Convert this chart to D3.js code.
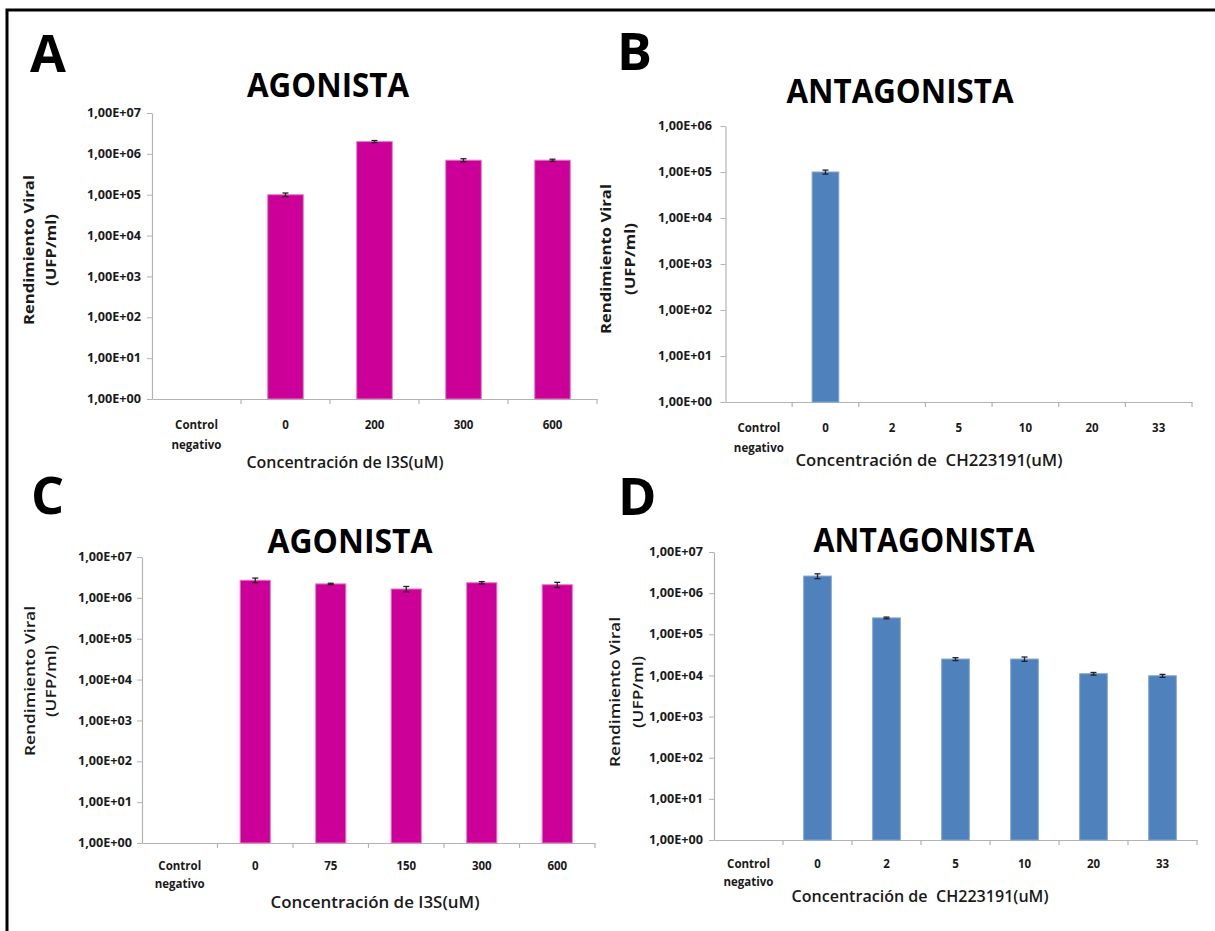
<!DOCTYPE html>
<html>
<head>
<meta charset="utf-8">
<script src="https://cdn.jsdelivr.net/npm/d3@7"></script>
<style>
  html, body { margin: 0; padding: 0; background: #fff; }
  svg { display: block; font-family: "Open Sans", "DejaVu Sans", sans-serif; }
</style>
</head>
<body>
<svg id="chart" width="1215" height="931"></svg>
<script>
// ---------------- DATA ----------------
const catA = ["Control negativo", "0", "200", "300", "600"];
const valA = [null, 1.0e5, 2.0e6, 7.0e5, 7.0e5];
const errA = [0, 1.0e4, 1.2e5, 6.0e4, 4.0e4];

const catB = ["Control negativo", "0", "2", "5", "10", "20", "33"];
const valB = [null, 1.0e5, null, null, null, null, null];
const errB = [0, 1.0e4, 0, 0, 0, 0, 0];

const catC = ["Control negativo", "0", "75", "150", "300", "600"];
const valC = [null, 2.7e6, 2.2e6, 1.65e6, 2.35e6, 2.1e6];
const errC = [0, 3.5e5, 8.0e4, 2.5e5, 1.5e5, 3.0e5];

const catD = ["Control negativo", "0", "2", "5", "10", "20", "33"];
const valD = [null, 2.6e6, 2.5e5, 2.5e4, 2.5e4, 1.1e4, 9.8e3];
const errD = [0, 3.5e5, 1.2e4, 2.0e3, 3.0e3, 8.0e2, 8.0e2];

const tickVals7 = [1, 1e1, 1e2, 1e3, 1e4, 1e5, 1e6, 1e7];
const tickLabels7 = ["1,00E+00", "1,00E+01", "1,00E+02", "1,00E+03", "1,00E+04", "1,00E+05", "1,00E+06", "1,00E+07"];
const tickVals6 = [1, 1e1, 1e2, 1e3, 1e4, 1e5, 1e6];
const tickLabels6 = ["1,00E+00", "1,00E+01", "1,00E+02", "1,00E+03", "1,00E+04", "1,00E+05", "1,00E+06"];

const panelLetters = ["A", "B", "C", "D"];
const titles = ["AGONISTA", "ANTAGONISTA", "AGONISTA", "ANTAGONISTA"];
const xTitles = ["Concentración de I3S(uM)", "Concentración de  CH223191(uM)", "Concentración de I3S(uM)", "Concentración de  CH223191(uM)"];
const yTitle1 = "Rendimiento Viral";
const yTitle2 = "(UFP/ml)";

const MAGENTA = "#CC0099";
const BLUE = "#4F81BD";

// ---------------- LAYOUT ----------------
const panels = [
  { letter: panelLetters[0], cats: catA, vals: valA, errs: errA, tv: tickVals7, tl: tickLabels7,
    color: MAGENTA, stroke: "#e27fc4",
    x0: 152, x1: 597, yTop: 113, yBot: 399, top: 1e7,
    letterX: 30, letterY: 72,
    title: titles[0], titleX: 328, titleY: 97, titleW: 162,
    tickRight: 141, catY1: 429, catY2: 449,
    xTitle: xTitles[0], xTitleX: 345, xTitleY: 468, xTitleW: 197,
    yT1x: 29, yT2x: 51, yTy: 250, yBold: true },
  { letter: panelLetters[1], cats: catB, vals: valB, errs: errB, tv: tickVals6, tl: tickLabels6,
    color: BLUE, stroke: "#7ea4d3",
    x0: 725.5, x1: 1192, yTop: 126, yBot: 402, top: 1e6,
    letterX: 617, letterY: 70,
    title: titles[1], titleX: 900, titleY: 103, titleW: 227,
    tickRight: 712, catY1: 432, catY2: 452,
    xTitle: xTitles[1], xTitleX: 929, xTitleY: 466, xTitleW: 267,
    yT1x: 606, yT2x: 630, yTy: 259, yBold: true },
  { letter: panelLetters[2], cats: catC, vals: valC, errs: errC, tv: tickVals7, tl: tickLabels7,
    color: MAGENTA, stroke: "#e27fc4",
    x0: 142, x1: 595, yTop: 557, yBot: 843, top: 1e7,
    letterX: 31, letterY: 514,
    title: titles[2], titleX: 350, titleY: 553, titleW: 165,
    tickRight: 132, catY1: 870, catY2: 888,
    xTitle: xTitles[2], xTitleX: 375, xTitleY: 908, xTitleW: 209,
    yT1x: 30, yT2x: 51, yTy: 681, yBold: false },
  { letter: panelLetters[3], cats: catD, vals: valD, errs: errD, tv: tickVals7, tl: tickLabels7,
    color: BLUE, stroke: "#7ea4d3",
    x0: 714, x1: 1197, yTop: 552, yBot: 840, top: 1e7,
    letterX: 618, letterY: 515,
    title: titles[3], titleX: 924, titleY: 552, titleW: 221,
    tickRight: 703, catY1: 868, catY2: 886,
    xTitle: xTitles[3], xTitleX: 920, xTitleY: 902, xTitleW: 257,
    yT1x: 615, yT2x: 638, yTy: 692, yBold: false }
];

const svg = d3.select("#chart");

// outer frame (top and left edges visible)
svg.append("path")
  .attr("d", d3.line()([[7, 940], [7, 10], [1225, 10]]))
  .attr("fill", "none").attr("stroke", "#000").attr("stroke-width", 3);

function drawPanel(p) {
  const g = svg.append("g");
  const x = d3.scaleBand().domain(p.cats).range([p.x0, p.x1]).paddingInner(0).paddingOuter(0);
  const y = d3.scaleLog().domain([1, p.top]).range([p.yBot, p.yTop]);
  const bw = x.bandwidth() * 0.4;

  // panel letter
  g.append("text").attr("x", p.letterX).attr("y", p.letterY)
    .attr("font-size", 52).attr("font-weight", 700).attr("fill", "#000").text(p.letter);

  // title
  g.append("text").attr("x", p.titleX).attr("y", p.titleY)
    .attr("text-anchor", "middle").attr("font-size", 34).attr("font-weight", 700)
    .attr("textLength", p.titleW).attr("lengthAdjust", "spacingAndGlyphs")
    .attr("fill", "#000").text(p.title);

  // y axis
  const yAxis = d3.axisLeft(y).tickValues(p.tv).tickFormat((d, i) => p.tl[i]).tickSize(5).tickSizeOuter(0);
  const ya = g.append("g").attr("transform", `translate(${p.x0},0)`).call(yAxis);
  ya.select(".domain").attr("stroke", "#b3b3b3").attr("stroke-width", 1.2);
  ya.selectAll(".tick line").attr("stroke", "#b3b3b3");
  ya.selectAll(".tick text")
    .attr("x", p.tickRight - p.x0)
    .attr("font-size", 11.5).attr("font-weight", 700).attr("fill", "#1a1a1a")
    .attr("font-family", "'Open Sans', sans-serif")
    .attr("textLength", 54).attr("lengthAdjust", "spacingAndGlyphs");

  // x axis (line + boundary ticks)
  const xAxis = d3.axisBottom(x).tickSize(0).tickSizeOuter(0).tickFormat("");
  const xa = g.append("g").attr("transform", `translate(0,${p.yBot})`).call(xAxis);
  xa.select(".domain").attr("stroke", "#b3b3b3").attr("stroke-width", 1.2);
  xa.selectAll(".tick").remove();
  g.append("g").selectAll("line").data(p.cats).join("line")
    .attr("x1", d => x(d) + x.bandwidth()).attr("x2", d => x(d) + x.bandwidth())
    .attr("y1", p.yBot).attr("y2", p.yBot + 5)
    .attr("stroke", "#b3b3b3").attr("stroke-width", 1.2);

  // bars
  const data = p.cats.map((c, i) => ({ c, v: p.vals[i], e: p.errs[i] })).filter(d => d.v != null);
  g.append("g").selectAll("rect").data(data).join("rect")
    .attr("x", d => x(d.c) + x.bandwidth() / 2 - bw / 2)
    .attr("width", bw)
    .attr("y", d => y(d.v))
    .attr("height", d => p.yBot - y(d.v))
    .attr("fill", p.color).attr("stroke", p.stroke).attr("stroke-width", 1);

  // error bars
  const eb = g.append("g").attr("stroke", "#222").attr("stroke-width", 1.3);
  data.forEach(d => {
    const cx = x(d.c) + x.bandwidth() / 2;
    const yh = y(d.v + d.e), yl = y(Math.max(d.v - d.e, 1));
    eb.append("line").attr("x1", cx).attr("x2", cx).attr("y1", yh).attr("y2", yl);
    eb.append("line").attr("x1", cx - 3).attr("x2", cx + 3).attr("y1", yh).attr("y2", yh);
    eb.append("line").attr("x1", cx - 3).attr("x2", cx + 3).attr("y1", yl).attr("y2", yl);
  });

  // category labels
  const cl = g.append("g").attr("font-size", 11.5).attr("font-weight", 700).attr("fill", "#1a1a1a").attr("text-anchor", "middle");
  p.cats.forEach(c => {
    const parts = c.split(" ");
    const cx = x(c) + x.bandwidth() / 2;
    cl.append("text").attr("x", cx).attr("y", p.catY1).text(parts[0]);
    if (parts[1]) cl.append("text").attr("x", cx).attr("y", p.catY2).text(parts[1]);
  });

  // x title
  g.append("text").attr("x", p.xTitleX).attr("y", p.xTitleY)
    .attr("text-anchor", "middle").attr("font-size", 16).attr("font-weight", 600)
    .attr("fill", "#1a1a1a").style("white-space", "pre")
    .attr("textLength", p.xTitleW).attr("lengthAdjust", "spacingAndGlyphs")
    .text(p.xTitle);

  // y titles
  const w = p.yBold ? 700 : 600;
  g.append("text").attr("transform", `translate(${p.yT1x},${p.yTy}) rotate(-90)`)
    .attr("text-anchor", "middle").attr("dy", "0.35em")
    .attr("font-size", 15).attr("font-weight", w).attr("fill", "#1a1a1a")
    .attr("textLength", 150).attr("lengthAdjust", "spacingAndGlyphs").text(yTitle1);
  g.append("text").attr("transform", `translate(${p.yT2x},${p.yTy}) rotate(-90)`)
    .attr("text-anchor", "middle").attr("dy", "0.35em")
    .attr("font-size", 15).attr("font-weight", w).attr("fill", "#1a1a1a")
    .attr("textLength", 72).attr("lengthAdjust", "spacingAndGlyphs").text(yTitle2);
}

panels.forEach(drawPanel);
</script>
</body>
</html>
